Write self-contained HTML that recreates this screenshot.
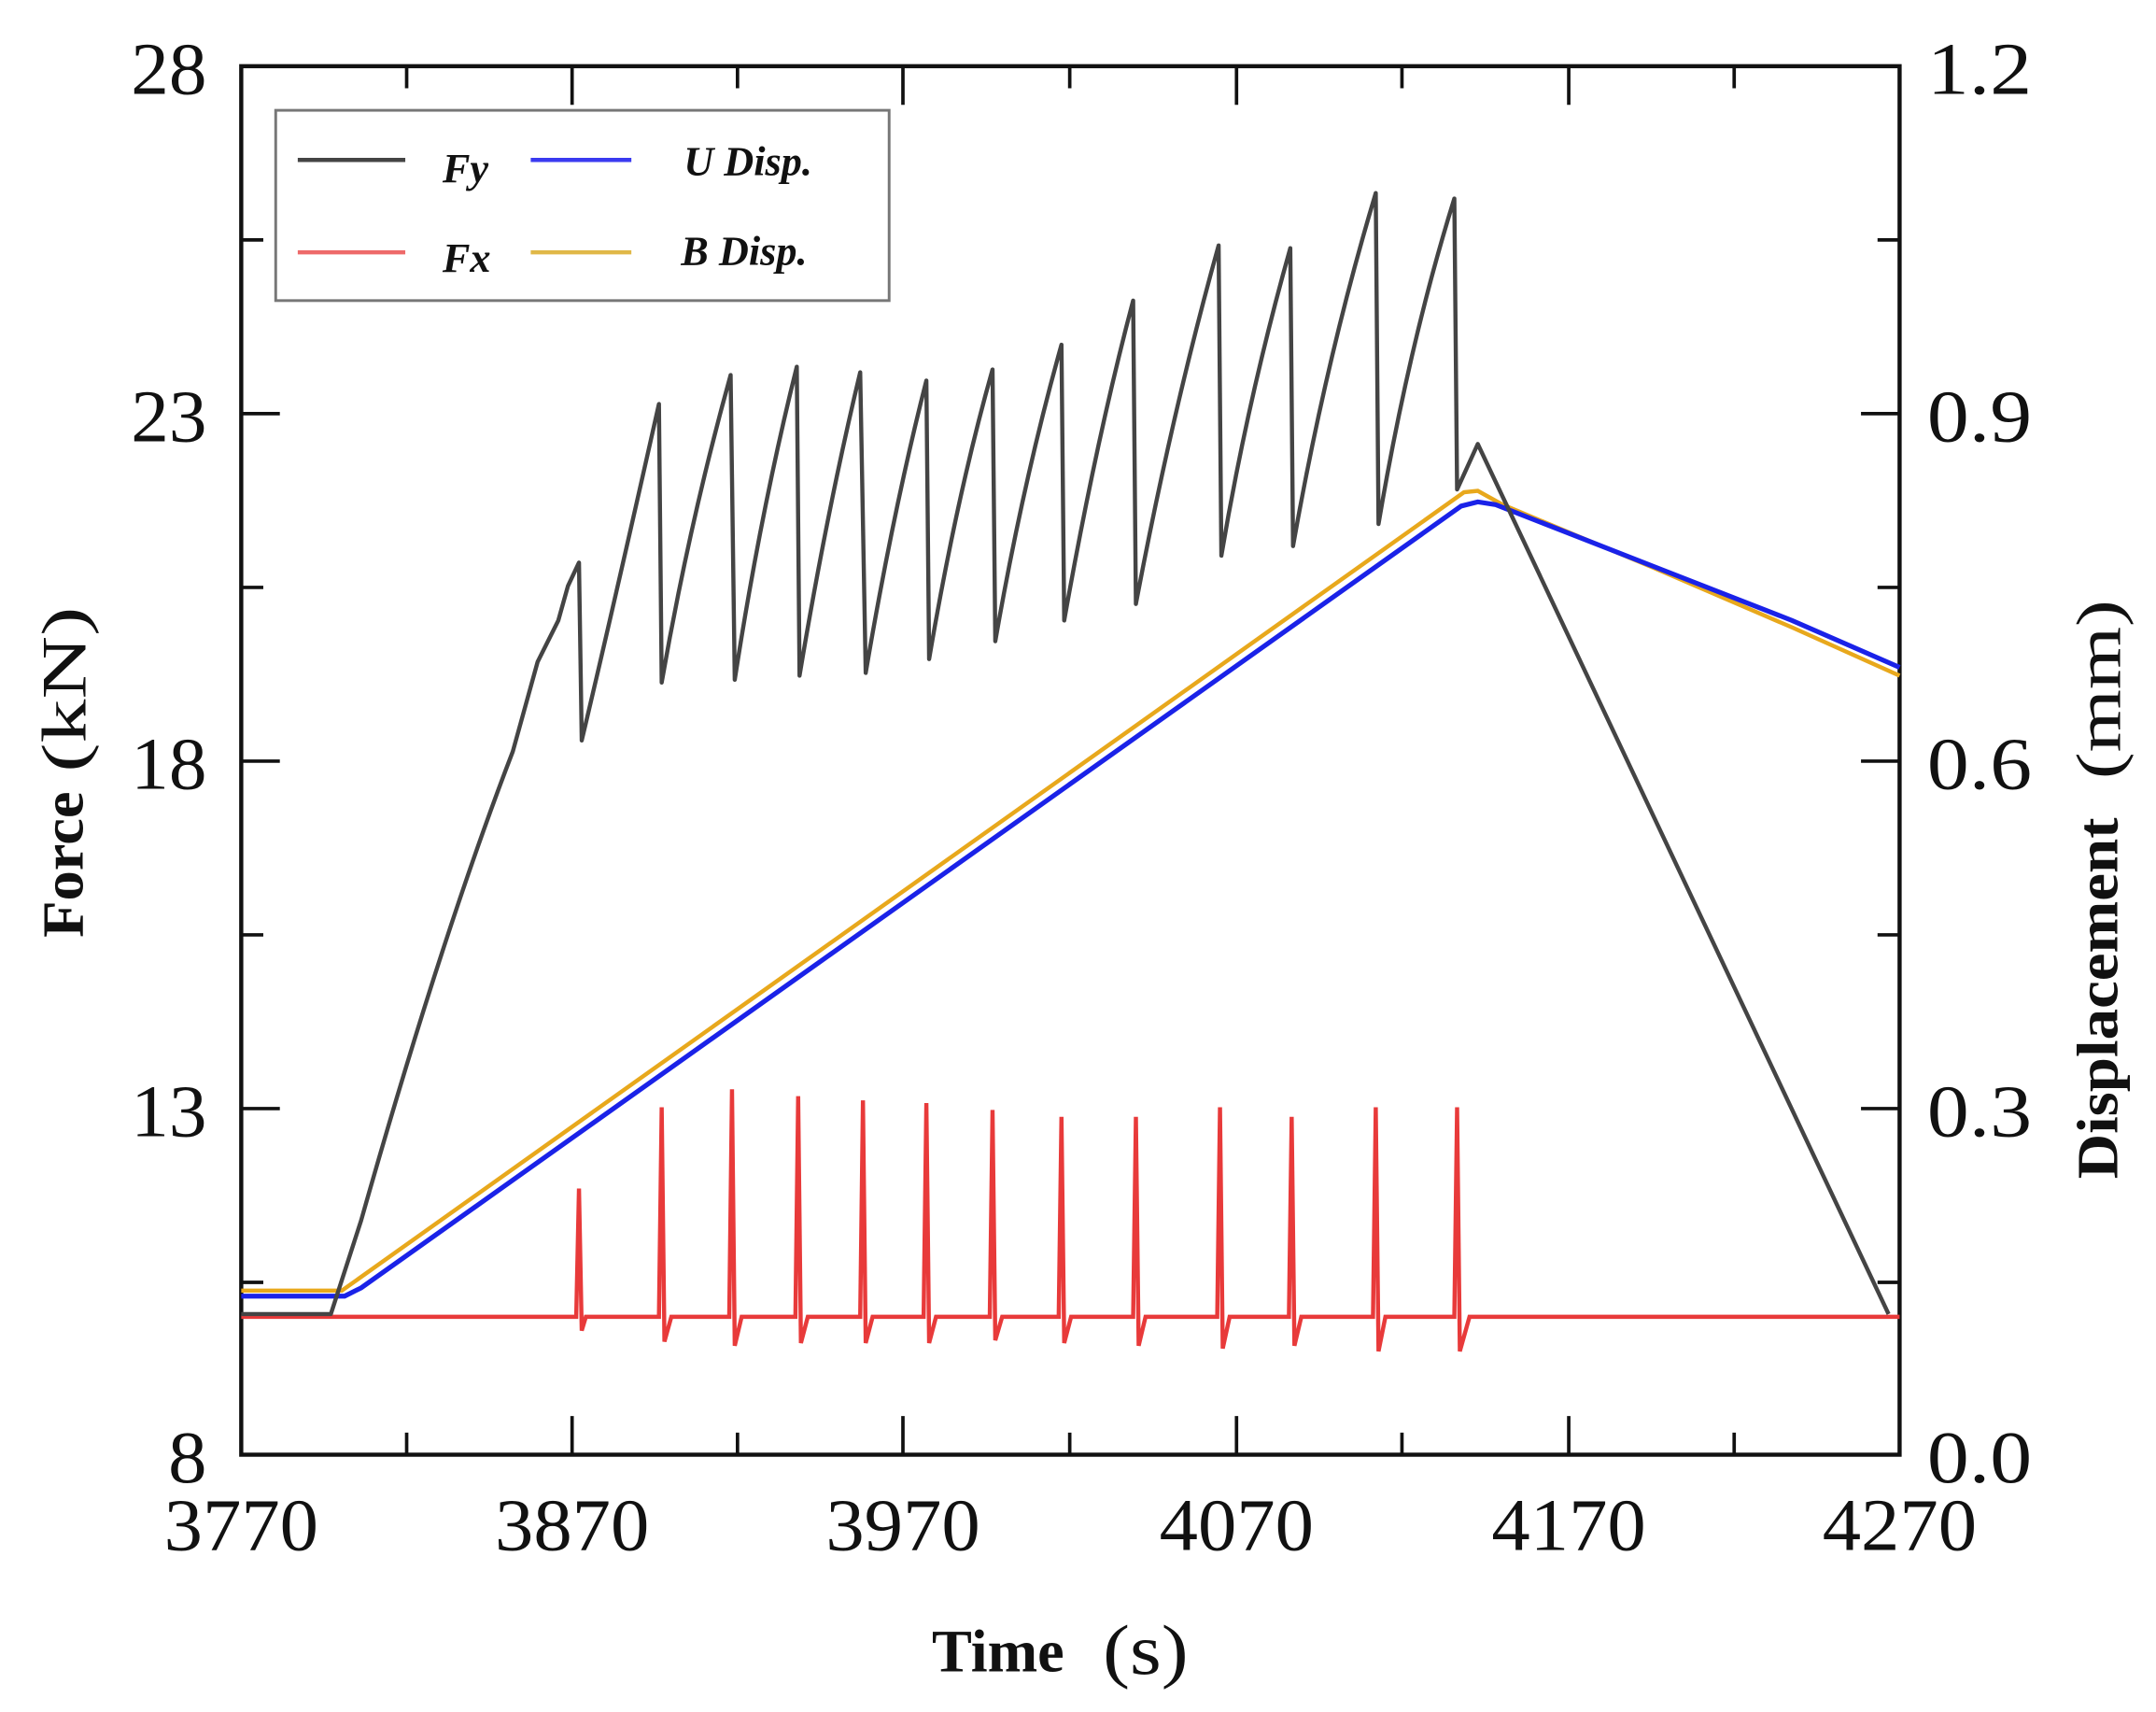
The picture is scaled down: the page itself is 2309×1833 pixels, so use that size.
<!DOCTYPE html>
<html><head><meta charset="utf-8"><style>
html,body{margin:0;padding:0;background:#fff;}
svg{display:block;}
text{font-family:"Liberation Serif",serif;}
</style></head><body>
<svg width="2309" height="1833" viewBox="0 0 1564 1241.6" preserveAspectRatio="none" xmlns="http://www.w3.org/2000/svg">
<rect width="1564" height="1241.6" fill="#fff"/>
<!-- axes frame -->
<rect x="175" y="48" width="1203" height="1007" fill="none" stroke="#111" stroke-width="3"/>
<!-- x ticks -->
<g stroke="#111" stroke-width="2.5">
<path d="M415,1055v-28M655,1055v-28M897,1055v-28M1138,1055v-28"/>
<path d="M295,1055v-16M535,1055v-16M776,1055v-16M1017,1055v-16M1258,1055v-16"/>
<path d="M415,48v28M655,48v28M897,48v28M1138,48v28"/>
<path d="M295,48v16M535,48v16M776,48v16M1017,48v16M1258,48v16"/>
<!-- left y -->
<path d="M175,300h28M175,552h28M175,804h28"/>
<path d="M175,174h16M175,426h16M175,678h16M175,930h16"/>
<!-- right y -->
<path d="M1378,300h-28M1378,552h-28M1378,804h-28"/>
<path d="M1378,174h-16M1378,426h-16M1378,678h-16M1378,930h-16"/>
</g>
<!-- tick labels -->
<g font-size="54" fill="#111">
<text x="150" y="68" text-anchor="end" textLength="55" lengthAdjust="spacingAndGlyphs">28</text>
<text x="150" y="320" text-anchor="end" textLength="55" lengthAdjust="spacingAndGlyphs">23</text>
<text x="150" y="572" text-anchor="end" textLength="55" lengthAdjust="spacingAndGlyphs">18</text>
<text x="150" y="824" text-anchor="end" textLength="55" lengthAdjust="spacingAndGlyphs">13</text>
<text x="150" y="1075" text-anchor="end" textLength="28" lengthAdjust="spacingAndGlyphs">8</text>
<text x="1398" y="68" textLength="76" lengthAdjust="spacingAndGlyphs">1.2</text>
<text x="1398" y="320" textLength="76" lengthAdjust="spacingAndGlyphs">0.9</text>
<text x="1398" y="572" textLength="76" lengthAdjust="spacingAndGlyphs">0.6</text>
<text x="1398" y="824" textLength="76" lengthAdjust="spacingAndGlyphs">0.3</text>
<text x="1398" y="1075" textLength="76" lengthAdjust="spacingAndGlyphs">0.0</text>
<text x="175" y="1124" text-anchor="middle" textLength="112" lengthAdjust="spacingAndGlyphs">3770</text>
<text x="415" y="1124" text-anchor="middle" textLength="112" lengthAdjust="spacingAndGlyphs">3870</text>
<text x="655" y="1124" text-anchor="middle" textLength="112" lengthAdjust="spacingAndGlyphs">3970</text>
<text x="897" y="1124" text-anchor="middle" textLength="112" lengthAdjust="spacingAndGlyphs">4070</text>
<text x="1138" y="1124" text-anchor="middle" textLength="112" lengthAdjust="spacingAndGlyphs">4170</text>
<text x="1378" y="1124" text-anchor="middle" textLength="112" lengthAdjust="spacingAndGlyphs">4270</text>
</g>
<!-- axis titles -->
<text x="676" y="1212" font-size="44" font-weight="bold" fill="#111" textLength="96" lengthAdjust="spacingAndGlyphs">Time</text>
<text x="800" y="1214" font-size="52" fill="#111" textLength="62" lengthAdjust="spacingAndGlyphs">(s)</text>
<g transform="translate(60,680) rotate(-90)">
<text x="0" y="0" font-size="42" font-weight="bold" fill="#111" textLength="106" lengthAdjust="spacingAndGlyphs">Force</text>
<text x="120" y="2" font-size="46" fill="#111" textLength="120" lengthAdjust="spacingAndGlyphs">(kN)</text>
</g>
<g transform="translate(1536,855) rotate(-90)">
<text x="0" y="0" font-size="42" font-weight="bold" fill="#111" textLength="262" lengthAdjust="spacingAndGlyphs">Displacement</text>
<text x="290" y="2" font-size="46" fill="#111" textLength="130" lengthAdjust="spacingAndGlyphs">(mm)</text>
</g>
<!-- Fx red -->
<path fill="none" stroke="#e83a3a" stroke-width="3" d="M175,955 L418,955 L420,862 L422,965 L425,955
L478,955 L480,803 L482,973 L487,955
L529,955 L531,790 L533,976 L538,955
L577,955 L579,795 L581,974 L586,955
L624,955 L626,798 L628,974 L633,955
L670,955 L672,800 L674,974 L679,955
L718,955 L720,805 L722,972 L727,955
L768,955 L770,810 L772,974 L777,955
L822,955 L824,810 L826,976 L831,955
L883,955 L885,803 L887,978 L892,955
L935,955 L937,810 L939,976 L944,955
L996,955 L998,803 L1000,980 L1005,955
L1055,955 L1057,803 L1059,980 L1066,955 L1378,955"/>
<!-- B Disp orange -->
<path fill="none" stroke="#e8a81c" stroke-width="3" d="M175,936 L248,936 L1062,357 L1072,356 L1090,366 L1200,412 L1300,455 L1378,490"/>
<!-- U Disp blue -->
<path fill="none" stroke="#1a22e8" stroke-width="3.5" d="M175,940 L250,940 L262,934 L1060,367 L1072,364 L1085,366 L1200,411 L1300,450 L1378,484"/>
<!-- Fy gray -->
<path fill="none" stroke="#444" stroke-width="3" stroke-linejoin="round" d="M175,953 L240,953 L262,885 Q320,680 372,545 L390,480 L405,450 L412,425 L420,408 L422,537
Q445,440 478,293 L480,495
Q500,380 530,272 L533,493
Q552,370 578,266 L580,490
Q600,370 624,270 L628,488
Q648,370 672,276 L674,478
Q694,360 720,268 L722,465
Q742,350 770,250 L772,450
Q795,320 822,218 L824,438
Q850,300 884,178 L886,403
Q905,290 936,180 L938,396
Q962,260 998,140 L1000,380
Q1022,250 1055,144 L1057,355
L1072,322 L1370,953"/>
<!-- legend -->
<rect x="200" y="80" width="445" height="138" fill="#fff" stroke="#777" stroke-width="2"/>
<g stroke-width="3">
<line x1="216" y1="116" x2="294" y2="116" stroke="#444"/>
<line x1="385" y1="116" x2="458" y2="116" stroke="#3a3af0"/>
<line x1="216" y1="183" x2="294" y2="183" stroke="#ee6a6a"/>
<line x1="385" y1="183" x2="458" y2="183" stroke="#e0b848"/>
</g>
<g font-size="30" font-style="italic" font-weight="bold" fill="#111">
<text x="321" y="132">Fy</text>
<text x="496" y="127">U Disp.</text>
<text x="321" y="197">Fx</text>
<text x="494" y="192">B Disp.</text>
</g>
</svg>
</body></html>
